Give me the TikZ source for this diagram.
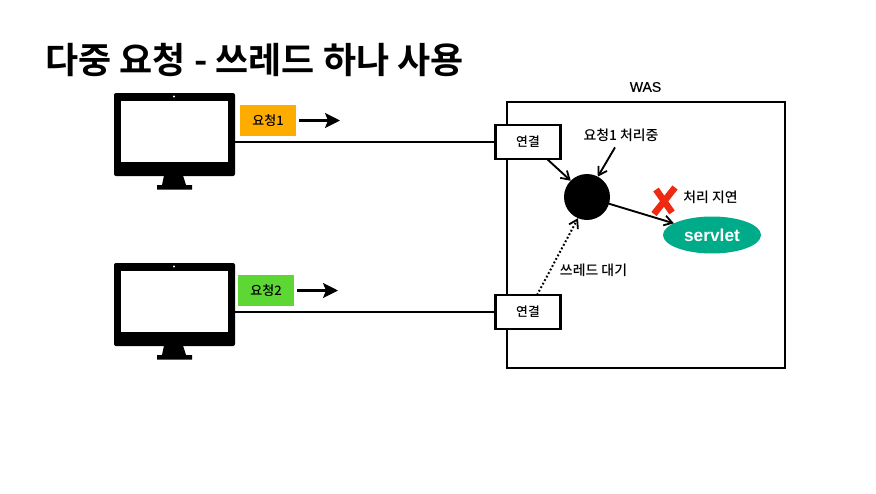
\documentclass[tikz,border=0pt]{standalone}
\usepackage{fontspec}
\setmainfont{Liberation Sans}
\newfontfamily\krfont{Noto Sans CJK KR Medium}
\newfontfamily\krbold{Noto Sans CJK KR Bold}
\usetikzlibrary{shapes.geometric,arrows.meta}
\definecolor{reqorange}{HTML}{FFAC00}
\definecolor{reqgreen}{HTML}{5CD734}
\definecolor{servteal}{HTML}{00AB8A}
\definecolor{xred}{HTML}{EE2A12}
\tikzset{
  lbl/.style={inner sep=0pt,outer sep=0pt,font=\krfont\fontsize{13.9}{16}\selectfont},
  conbox/.style={draw=black,line width=2.2pt,fill=white,minimum width=65pt,minimum height=34pt,inner sep=0pt,outer sep=0pt,font=\krfont\fontsize{12.8}{14}\selectfont},
  req/.style={minimum width=56pt,minimum height=31pt,inner sep=0pt,outer sep=0pt,font=\krfont\fontsize{13}{14}\selectfont},
  monitor/.style={fill=black,rounded corners=2pt,minimum width=121pt,minimum height=83pt,inner sep=0pt,outer sep=0pt},
  wire/.style={line width=2pt,draw=black},
  arr/.style={line width=1.9pt,draw=black,-{Straight Barb[length=8pt,width=10pt,line width=1.8pt]}},
  dotarr/.style={line width=2pt,draw=black,dash pattern=on 1.8pt off 2.2pt,-{Straight Barb[length=8pt,width=10pt,line width=1.8pt]}},
  reqarr/.style={line width=2.1pt,draw=black,-{Stealth[length=15pt,width=15pt,inset=3pt]}},
  xstroke/.style={line width=6.6pt,draw=xred}
}
\newcommand{\monitorparts}[2]{%
  \node[monitor] (#1) at (174.5,#2) {};
  \fill[white] (120.5,#2-33.5) rectangle (228,#2+27.5);
  \fill[white] (174,#2-38) circle (1.1pt);
  \fill[black] (164,#2+41) -- (183,#2+41) -- (186,#2+50.5) -- (192,#2+50.5) -- (192,#2+55) -- (157,#2+55) -- (157,#2+50.5) -- (162,#2+50.5) -- cycle;
}
\begin{document}
\begin{tikzpicture}[x=1pt,y=-1pt]
\useasboundingbox (0,0) rectangle (876,493);
\fill[white] (0,0) rectangle (876,493);
\node[inner sep=0pt,anchor=west,font=\krbold\fontsize{36}{42}\selectfont] (title) at (45,60) {다중 요청 - 쓰레드 하나 사용};

\monitorparts{m1}{134.5}
\monitorparts{m2}{304.5}

\node[req,fill=reqorange] (r1) at (268,120.5) {요청1};
\node[req,fill=reqgreen] (r2) at (266,290.5) {요청2};
\coordinate (a1s) at (299,120.5);
\coordinate (a1e) at (340,120.5);
\coordinate (a2s) at (297,290.5);
\coordinate (a2e) at (338,290.5);
\draw[reqarr] (a1s) -- (a1e);
\draw[reqarr] (a2s) -- (a2e);

\node[draw=black,line width=2.2pt,minimum width=278pt,minimum height=265.5pt,inner sep=0pt,outer sep=0pt] (was) at (645.75,235) {};
\node[inner sep=0pt,font=\fontsize{14}{16}\selectfont] (waslbl) at (645.5,87) {\addfontfeature{FakeBold=0.3}WAS};

\node[conbox] (b1) at (528,142) {연결};
\node[conbox] (b2) at (528,312) {연결};
\draw[wire] (m1.east |- b1.west) -- (b1.west);
\draw[wire] (m2.east |- b2.west) -- (b2.west);

\node[circle,fill=black,minimum size=46pt,inner sep=0pt,outer sep=0pt] (t) at (587,197) {};
\node[ellipse,fill=servteal,minimum width=98pt,minimum height=37pt,inner sep=0pt,outer sep=0pt,text=white,font=\bfseries\fontsize{17.3}{20}\selectfont] (s) at (712,235) {servlet};

\node[lbl] (l1) at (621,135) {요청1 처리중};
\node[lbl] (l2) at (710.5,197) {처리 지연};
\node[lbl] (l3) at (593.5,270) {쓰레드 대기};

\draw[arr] ([xshift=19pt]b1.south) -- (t.135);
\draw[arr] ([xshift=-6pt]l1.south) ++(0,6) -- (t.62);
\draw[arr] (t.-17) -- (s.163);
\draw[dotarr] ([xshift=9pt]b2.north) -- (t.247);

\draw[xstroke] (656,189.5) -- (672,212.5);
\draw[xstroke] (675,187.5) -- (654,214);
\end{tikzpicture}
\end{document}
